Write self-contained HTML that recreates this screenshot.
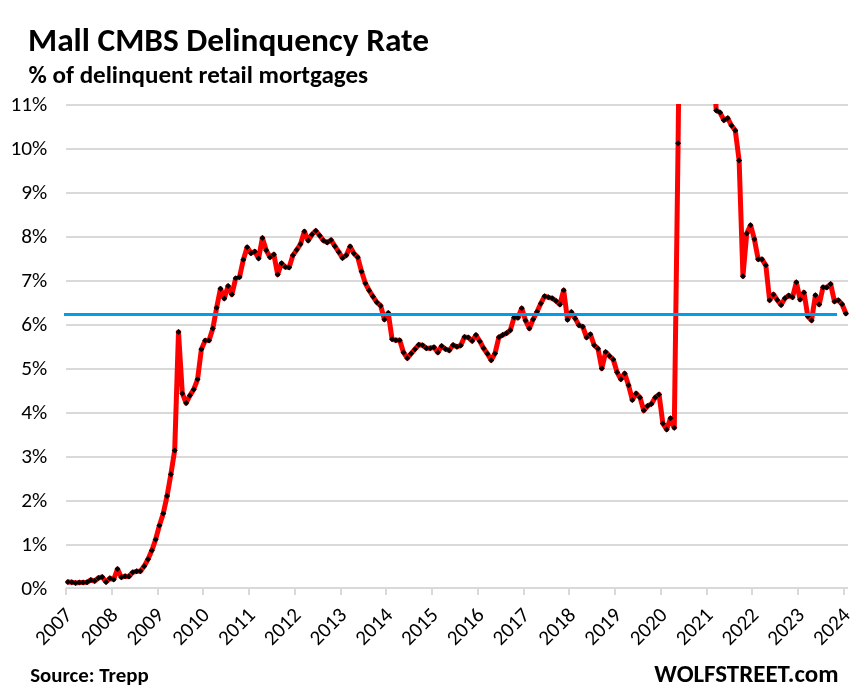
<!DOCTYPE html>
<html><head><meta charset="utf-8"><style>
html,body{margin:0;padding:0;background:#fff;}
svg{display:block;will-change:transform;}
text{font-family:Carlito,"Liberation Sans",sans-serif;fill:#000;}
.yl{font-size:21.3px;}
.xl{font-size:21px;}
.b{font-weight:bold;}
</style></head><body>
<svg width="857" height="694" viewBox="0 0 857 694">

<defs><clipPath id="pa"><rect x="0" y="104" width="857" height="590"/></clipPath></defs>
<text x="28" y="51.3" class="b" style="font-size:33px" textLength="401" lengthAdjust="spacingAndGlyphs">Mall CMBS Delinquency Rate</text>
<text x="28.6" y="83.0" class="b" style="font-size:24.4px" textLength="339.5" lengthAdjust="spacingAndGlyphs">% of delinquent retail mortgages</text>
<g shape-rendering="crispEdges"><rect x="66" y="544" width="782" height="2" fill="#d9d9d9"/><rect x="66" y="500" width="782" height="2" fill="#d9d9d9"/><rect x="66" y="456" width="782" height="2" fill="#d9d9d9"/><rect x="66" y="412" width="782" height="2" fill="#d9d9d9"/><rect x="66" y="368" width="782" height="2" fill="#d9d9d9"/><rect x="66" y="324" width="782" height="2" fill="#d9d9d9"/><rect x="66" y="280" width="782" height="2" fill="#d9d9d9"/><rect x="66" y="236" width="782" height="2" fill="#d9d9d9"/><rect x="66" y="192" width="782" height="2" fill="#d9d9d9"/><rect x="66" y="148" width="782" height="2" fill="#d9d9d9"/><rect x="66" y="104" width="782" height="2" fill="#d9d9d9"/><rect x="66" y="587" width="782" height="2" fill="#d9d9d9"/><rect x="65" y="588" width="2" height="7" fill="#d9d9d9"/><rect x="111" y="588" width="2" height="7" fill="#d9d9d9"/><rect x="157" y="588" width="2" height="7" fill="#d9d9d9"/><rect x="202" y="588" width="2" height="7" fill="#d9d9d9"/><rect x="248" y="588" width="2" height="7" fill="#d9d9d9"/><rect x="294" y="588" width="2" height="7" fill="#d9d9d9"/><rect x="340" y="588" width="2" height="7" fill="#d9d9d9"/><rect x="385" y="588" width="2" height="7" fill="#d9d9d9"/><rect x="431" y="588" width="2" height="7" fill="#d9d9d9"/><rect x="477" y="588" width="2" height="7" fill="#d9d9d9"/><rect x="523" y="588" width="2" height="7" fill="#d9d9d9"/><rect x="568" y="588" width="2" height="7" fill="#d9d9d9"/><rect x="614" y="588" width="2" height="7" fill="#d9d9d9"/><rect x="660" y="588" width="2" height="7" fill="#d9d9d9"/><rect x="706" y="588" width="2" height="7" fill="#d9d9d9"/><rect x="751" y="588" width="2" height="7" fill="#d9d9d9"/><rect x="797" y="588" width="2" height="7" fill="#d9d9d9"/><rect x="843" y="588" width="2" height="7" fill="#d9d9d9"/></g>
<text x="47.2" y="594.9" text-anchor="end" class="yl" textLength="26.03" lengthAdjust="spacingAndGlyphs">0%</text><text x="47.2" y="551.4" text-anchor="end" class="yl" textLength="26.03" lengthAdjust="spacingAndGlyphs">1%</text><text x="47.2" y="507.4" text-anchor="end" class="yl" textLength="26.03" lengthAdjust="spacingAndGlyphs">2%</text><text x="47.2" y="463.4" text-anchor="end" class="yl" textLength="26.03" lengthAdjust="spacingAndGlyphs">3%</text><text x="47.2" y="419.4" text-anchor="end" class="yl" textLength="26.03" lengthAdjust="spacingAndGlyphs">4%</text><text x="47.2" y="375.4" text-anchor="end" class="yl" textLength="26.03" lengthAdjust="spacingAndGlyphs">5%</text><text x="47.2" y="331.4" text-anchor="end" class="yl" textLength="26.03" lengthAdjust="spacingAndGlyphs">6%</text><text x="47.2" y="287.4" text-anchor="end" class="yl" textLength="26.03" lengthAdjust="spacingAndGlyphs">7%</text><text x="47.2" y="243.4" text-anchor="end" class="yl" textLength="26.03" lengthAdjust="spacingAndGlyphs">8%</text><text x="47.2" y="199.4" text-anchor="end" class="yl" textLength="26.03" lengthAdjust="spacingAndGlyphs">9%</text><text x="47.2" y="155.4" text-anchor="end" class="yl" textLength="36.81" lengthAdjust="spacingAndGlyphs">10%</text><text x="47.2" y="111.4" text-anchor="end" class="yl" textLength="36.81" lengthAdjust="spacingAndGlyphs">11%</text>
<text transform="translate(73.3,616.1) rotate(-45)" text-anchor="end" class="xl" textLength="42.58" lengthAdjust="spacingAndGlyphs">2007</text><text transform="translate(119.1,616.1) rotate(-45)" text-anchor="end" class="xl" textLength="42.58" lengthAdjust="spacingAndGlyphs">2008</text><text transform="translate(164.8,616.1) rotate(-45)" text-anchor="end" class="xl" textLength="42.58" lengthAdjust="spacingAndGlyphs">2009</text><text transform="translate(210.6,616.1) rotate(-45)" text-anchor="end" class="xl" textLength="42.58" lengthAdjust="spacingAndGlyphs">2010</text><text transform="translate(256.4,616.1) rotate(-45)" text-anchor="end" class="xl" textLength="42.58" lengthAdjust="spacingAndGlyphs">2011</text><text transform="translate(302.1,616.1) rotate(-45)" text-anchor="end" class="xl" textLength="42.58" lengthAdjust="spacingAndGlyphs">2012</text><text transform="translate(347.9,616.1) rotate(-45)" text-anchor="end" class="xl" textLength="42.58" lengthAdjust="spacingAndGlyphs">2013</text><text transform="translate(393.7,616.1) rotate(-45)" text-anchor="end" class="xl" textLength="42.58" lengthAdjust="spacingAndGlyphs">2014</text><text transform="translate(439.4,616.1) rotate(-45)" text-anchor="end" class="xl" textLength="42.58" lengthAdjust="spacingAndGlyphs">2015</text><text transform="translate(485.2,616.1) rotate(-45)" text-anchor="end" class="xl" textLength="42.58" lengthAdjust="spacingAndGlyphs">2016</text><text transform="translate(530.9,616.1) rotate(-45)" text-anchor="end" class="xl" textLength="42.58" lengthAdjust="spacingAndGlyphs">2017</text><text transform="translate(576.7,616.1) rotate(-45)" text-anchor="end" class="xl" textLength="42.58" lengthAdjust="spacingAndGlyphs">2018</text><text transform="translate(622.5,616.1) rotate(-45)" text-anchor="end" class="xl" textLength="42.58" lengthAdjust="spacingAndGlyphs">2019</text><text transform="translate(668.2,616.1) rotate(-45)" text-anchor="end" class="xl" textLength="42.58" lengthAdjust="spacingAndGlyphs">2020</text><text transform="translate(714.0,616.1) rotate(-45)" text-anchor="end" class="xl" textLength="42.58" lengthAdjust="spacingAndGlyphs">2021</text><text transform="translate(759.8,616.1) rotate(-45)" text-anchor="end" class="xl" textLength="42.58" lengthAdjust="spacingAndGlyphs">2022</text><text transform="translate(805.5,616.1) rotate(-45)" text-anchor="end" class="xl" textLength="42.58" lengthAdjust="spacingAndGlyphs">2023</text><text transform="translate(851.3,616.1) rotate(-45)" text-anchor="end" class="xl" textLength="42.58" lengthAdjust="spacingAndGlyphs">2024</text>
<g clip-path="url(#pa)">
<polyline points="67.91,582.00 71.72,582.30 75.53,582.90 79.35,582.50 83.16,582.50 86.98,582.30 90.79,580.00 94.60,581.00 98.42,578.00 102.23,577.00 106.04,582.10 109.86,578.20 113.67,579.50 117.49,569.10 121.30,577.30 125.11,576.20 128.93,576.50 132.74,572.30 136.55,571.30 140.37,571.30 144.18,566.20 148.00,559.30 151.81,550.60 155.62,539.50 159.44,525.40 163.25,513.40 167.06,496.10 170.88,474.30 174.69,450.40 178.50,332.10 182.32,393.40 186.13,403.10 189.95,395.40 193.76,389.40 197.57,379.30 201.39,349.20 205.20,340.60 209.01,340.60 212.83,328.50 216.64,307.70 220.46,288.70 224.27,298.50 228.08,286.10 231.90,294.40 235.71,278.30 239.52,277.10 243.34,259.80 247.15,247.20 250.97,253.20 254.78,251.50 258.59,258.40 262.41,238.00 266.22,250.30 270.03,257.20 273.85,254.40 277.66,274.60 281.48,263.20 285.29,267.10 289.10,267.40 292.92,255.30 296.73,249.80 300.54,244.10 304.36,231.50 308.17,240.60 311.99,234.60 315.80,230.80 319.61,235.50 323.43,240.60 327.24,242.40 331.05,240.10 334.87,246.20 338.68,251.90 342.50,257.90 346.31,255.30 350.12,246.40 353.94,253.40 357.75,257.30 361.56,271.50 365.38,283.30 369.19,290.50 373.00,296.60 376.82,302.30 380.63,305.70 384.45,319.50 388.26,313.00 392.07,339.20 395.89,340.30 399.70,340.30 403.51,352.40 407.33,358.20 411.14,353.60 414.96,349.20 418.77,344.80 422.58,345.20 426.40,348.20 430.21,348.20 434.02,347.30 437.84,352.40 441.65,346.10 445.47,349.10 449.28,350.40 453.09,345.10 456.91,346.80 460.72,345.40 464.53,337.00 468.35,337.50 472.16,341.00 475.98,335.10 479.79,341.20 483.60,348.20 487.42,353.70 491.23,360.20 495.04,353.40 498.86,337.20 502.67,335.10 506.49,333.30 510.30,330.30 514.11,317.40 517.93,317.70 521.74,308.30 525.55,320.60 529.37,328.40 533.18,319.30 537.00,311.80 540.81,303.50 544.62,296.20 548.44,297.30 552.25,298.30 556.06,301.00 559.88,304.50 563.69,290.20 567.50,319.80 571.32,312.00 575.13,318.40 578.95,325.30 582.76,326.70 586.57,337.40 590.39,334.30 594.20,345.20 598.01,348.70 601.83,368.50 605.64,352.10 609.46,356.10 613.27,359.50 617.08,372.30 620.90,379.20 624.71,373.50 628.52,385.20 632.34,399.90 636.15,393.40 639.97,397.40 643.78,410.60 647.59,405.90 651.41,403.90 655.22,397.40 659.03,394.40 662.85,423.40 666.66,429.40 670.48,418.30 674.29,427.70 678.10,143.20 681.92,-205.44 685.73,-78.98 689.54,-65.37 693.36,-67.12 697.17,-30.68 700.99,-10.04 704.80,8.84 708.61,25.96 712.43,47.92 716.24,110.40 720.05,112.60 723.87,120.20 727.68,118.20 731.50,125.60 735.31,130.60 739.12,160.50 742.94,276.20 746.75,233.40 750.56,225.20 754.38,239.20 758.19,259.30 762.00,259.30 765.82,265.30 769.63,300.20 773.45,294.40 777.26,299.90 781.07,305.10 784.89,298.20 788.70,295.60 792.51,297.30 796.33,282.30 800.14,299.60 803.96,292.40 807.77,316.20 811.58,320.40 815.40,295.30 819.21,304.50 823.02,287.30 826.84,287.50 830.65,284.10 834.47,301.40 838.28,300.20 842.09,304.30 845.91,313.50" fill="none" stroke="#ff0000" stroke-width="5" stroke-linejoin="round" stroke-linecap="round"/>
<path d="M67.91 579.00l3.0 3.0l-3.0 3.0l-3.0 -3.0zM71.72 579.30l3.0 3.0l-3.0 3.0l-3.0 -3.0zM75.53 579.90l3.0 3.0l-3.0 3.0l-3.0 -3.0zM79.35 579.50l3.0 3.0l-3.0 3.0l-3.0 -3.0zM83.16 579.50l3.0 3.0l-3.0 3.0l-3.0 -3.0zM86.98 579.30l3.0 3.0l-3.0 3.0l-3.0 -3.0zM90.79 577.00l3.0 3.0l-3.0 3.0l-3.0 -3.0zM94.60 578.00l3.0 3.0l-3.0 3.0l-3.0 -3.0zM98.42 575.00l3.0 3.0l-3.0 3.0l-3.0 -3.0zM102.23 574.00l3.0 3.0l-3.0 3.0l-3.0 -3.0zM106.04 579.10l3.0 3.0l-3.0 3.0l-3.0 -3.0zM109.86 575.20l3.0 3.0l-3.0 3.0l-3.0 -3.0zM113.67 576.50l3.0 3.0l-3.0 3.0l-3.0 -3.0zM117.49 566.10l3.0 3.0l-3.0 3.0l-3.0 -3.0zM121.30 574.30l3.0 3.0l-3.0 3.0l-3.0 -3.0zM125.11 573.20l3.0 3.0l-3.0 3.0l-3.0 -3.0zM128.93 573.50l3.0 3.0l-3.0 3.0l-3.0 -3.0zM132.74 569.30l3.0 3.0l-3.0 3.0l-3.0 -3.0zM136.55 568.30l3.0 3.0l-3.0 3.0l-3.0 -3.0zM140.37 568.30l3.0 3.0l-3.0 3.0l-3.0 -3.0zM144.18 563.20l3.0 3.0l-3.0 3.0l-3.0 -3.0zM148.00 556.30l3.0 3.0l-3.0 3.0l-3.0 -3.0zM151.81 547.60l3.0 3.0l-3.0 3.0l-3.0 -3.0zM155.62 536.50l3.0 3.0l-3.0 3.0l-3.0 -3.0zM159.44 522.40l3.0 3.0l-3.0 3.0l-3.0 -3.0zM163.25 510.40l3.0 3.0l-3.0 3.0l-3.0 -3.0zM167.06 493.10l3.0 3.0l-3.0 3.0l-3.0 -3.0zM170.88 471.30l3.0 3.0l-3.0 3.0l-3.0 -3.0zM174.69 447.40l3.0 3.0l-3.0 3.0l-3.0 -3.0zM178.50 329.10l3.0 3.0l-3.0 3.0l-3.0 -3.0zM182.32 390.40l3.0 3.0l-3.0 3.0l-3.0 -3.0zM186.13 400.10l3.0 3.0l-3.0 3.0l-3.0 -3.0zM189.95 392.40l3.0 3.0l-3.0 3.0l-3.0 -3.0zM193.76 386.40l3.0 3.0l-3.0 3.0l-3.0 -3.0zM197.57 376.30l3.0 3.0l-3.0 3.0l-3.0 -3.0zM201.39 346.20l3.0 3.0l-3.0 3.0l-3.0 -3.0zM205.20 337.60l3.0 3.0l-3.0 3.0l-3.0 -3.0zM209.01 337.60l3.0 3.0l-3.0 3.0l-3.0 -3.0zM212.83 325.50l3.0 3.0l-3.0 3.0l-3.0 -3.0zM216.64 304.70l3.0 3.0l-3.0 3.0l-3.0 -3.0zM220.46 285.70l3.0 3.0l-3.0 3.0l-3.0 -3.0zM224.27 295.50l3.0 3.0l-3.0 3.0l-3.0 -3.0zM228.08 283.10l3.0 3.0l-3.0 3.0l-3.0 -3.0zM231.90 291.40l3.0 3.0l-3.0 3.0l-3.0 -3.0zM235.71 275.30l3.0 3.0l-3.0 3.0l-3.0 -3.0zM239.52 274.10l3.0 3.0l-3.0 3.0l-3.0 -3.0zM243.34 256.80l3.0 3.0l-3.0 3.0l-3.0 -3.0zM247.15 244.20l3.0 3.0l-3.0 3.0l-3.0 -3.0zM250.97 250.20l3.0 3.0l-3.0 3.0l-3.0 -3.0zM254.78 248.50l3.0 3.0l-3.0 3.0l-3.0 -3.0zM258.59 255.40l3.0 3.0l-3.0 3.0l-3.0 -3.0zM262.41 235.00l3.0 3.0l-3.0 3.0l-3.0 -3.0zM266.22 247.30l3.0 3.0l-3.0 3.0l-3.0 -3.0zM270.03 254.20l3.0 3.0l-3.0 3.0l-3.0 -3.0zM273.85 251.40l3.0 3.0l-3.0 3.0l-3.0 -3.0zM277.66 271.60l3.0 3.0l-3.0 3.0l-3.0 -3.0zM281.48 260.20l3.0 3.0l-3.0 3.0l-3.0 -3.0zM285.29 264.10l3.0 3.0l-3.0 3.0l-3.0 -3.0zM289.10 264.40l3.0 3.0l-3.0 3.0l-3.0 -3.0zM292.92 252.30l3.0 3.0l-3.0 3.0l-3.0 -3.0zM296.73 246.80l3.0 3.0l-3.0 3.0l-3.0 -3.0zM300.54 241.10l3.0 3.0l-3.0 3.0l-3.0 -3.0zM304.36 228.50l3.0 3.0l-3.0 3.0l-3.0 -3.0zM308.17 237.60l3.0 3.0l-3.0 3.0l-3.0 -3.0zM311.99 231.60l3.0 3.0l-3.0 3.0l-3.0 -3.0zM315.80 227.80l3.0 3.0l-3.0 3.0l-3.0 -3.0zM319.61 232.50l3.0 3.0l-3.0 3.0l-3.0 -3.0zM323.43 237.60l3.0 3.0l-3.0 3.0l-3.0 -3.0zM327.24 239.40l3.0 3.0l-3.0 3.0l-3.0 -3.0zM331.05 237.10l3.0 3.0l-3.0 3.0l-3.0 -3.0zM334.87 243.20l3.0 3.0l-3.0 3.0l-3.0 -3.0zM338.68 248.90l3.0 3.0l-3.0 3.0l-3.0 -3.0zM342.50 254.90l3.0 3.0l-3.0 3.0l-3.0 -3.0zM346.31 252.30l3.0 3.0l-3.0 3.0l-3.0 -3.0zM350.12 243.40l3.0 3.0l-3.0 3.0l-3.0 -3.0zM353.94 250.40l3.0 3.0l-3.0 3.0l-3.0 -3.0zM357.75 254.30l3.0 3.0l-3.0 3.0l-3.0 -3.0zM361.56 268.50l3.0 3.0l-3.0 3.0l-3.0 -3.0zM365.38 280.30l3.0 3.0l-3.0 3.0l-3.0 -3.0zM369.19 287.50l3.0 3.0l-3.0 3.0l-3.0 -3.0zM373.00 293.60l3.0 3.0l-3.0 3.0l-3.0 -3.0zM376.82 299.30l3.0 3.0l-3.0 3.0l-3.0 -3.0zM380.63 302.70l3.0 3.0l-3.0 3.0l-3.0 -3.0zM384.45 316.50l3.0 3.0l-3.0 3.0l-3.0 -3.0zM388.26 310.00l3.0 3.0l-3.0 3.0l-3.0 -3.0zM392.07 336.20l3.0 3.0l-3.0 3.0l-3.0 -3.0zM395.89 337.30l3.0 3.0l-3.0 3.0l-3.0 -3.0zM399.70 337.30l3.0 3.0l-3.0 3.0l-3.0 -3.0zM403.51 349.40l3.0 3.0l-3.0 3.0l-3.0 -3.0zM407.33 355.20l3.0 3.0l-3.0 3.0l-3.0 -3.0zM411.14 350.60l3.0 3.0l-3.0 3.0l-3.0 -3.0zM414.96 346.20l3.0 3.0l-3.0 3.0l-3.0 -3.0zM418.77 341.80l3.0 3.0l-3.0 3.0l-3.0 -3.0zM422.58 342.20l3.0 3.0l-3.0 3.0l-3.0 -3.0zM426.40 345.20l3.0 3.0l-3.0 3.0l-3.0 -3.0zM430.21 345.20l3.0 3.0l-3.0 3.0l-3.0 -3.0zM434.02 344.30l3.0 3.0l-3.0 3.0l-3.0 -3.0zM437.84 349.40l3.0 3.0l-3.0 3.0l-3.0 -3.0zM441.65 343.10l3.0 3.0l-3.0 3.0l-3.0 -3.0zM445.47 346.10l3.0 3.0l-3.0 3.0l-3.0 -3.0zM449.28 347.40l3.0 3.0l-3.0 3.0l-3.0 -3.0zM453.09 342.10l3.0 3.0l-3.0 3.0l-3.0 -3.0zM456.91 343.80l3.0 3.0l-3.0 3.0l-3.0 -3.0zM460.72 342.40l3.0 3.0l-3.0 3.0l-3.0 -3.0zM464.53 334.00l3.0 3.0l-3.0 3.0l-3.0 -3.0zM468.35 334.50l3.0 3.0l-3.0 3.0l-3.0 -3.0zM472.16 338.00l3.0 3.0l-3.0 3.0l-3.0 -3.0zM475.98 332.10l3.0 3.0l-3.0 3.0l-3.0 -3.0zM479.79 338.20l3.0 3.0l-3.0 3.0l-3.0 -3.0zM483.60 345.20l3.0 3.0l-3.0 3.0l-3.0 -3.0zM487.42 350.70l3.0 3.0l-3.0 3.0l-3.0 -3.0zM491.23 357.20l3.0 3.0l-3.0 3.0l-3.0 -3.0zM495.04 350.40l3.0 3.0l-3.0 3.0l-3.0 -3.0zM498.86 334.20l3.0 3.0l-3.0 3.0l-3.0 -3.0zM502.67 332.10l3.0 3.0l-3.0 3.0l-3.0 -3.0zM506.49 330.30l3.0 3.0l-3.0 3.0l-3.0 -3.0zM510.30 327.30l3.0 3.0l-3.0 3.0l-3.0 -3.0zM514.11 314.40l3.0 3.0l-3.0 3.0l-3.0 -3.0zM517.93 314.70l3.0 3.0l-3.0 3.0l-3.0 -3.0zM521.74 305.30l3.0 3.0l-3.0 3.0l-3.0 -3.0zM525.55 317.60l3.0 3.0l-3.0 3.0l-3.0 -3.0zM529.37 325.40l3.0 3.0l-3.0 3.0l-3.0 -3.0zM533.18 316.30l3.0 3.0l-3.0 3.0l-3.0 -3.0zM537.00 308.80l3.0 3.0l-3.0 3.0l-3.0 -3.0zM540.81 300.50l3.0 3.0l-3.0 3.0l-3.0 -3.0zM544.62 293.20l3.0 3.0l-3.0 3.0l-3.0 -3.0zM548.44 294.30l3.0 3.0l-3.0 3.0l-3.0 -3.0zM552.25 295.30l3.0 3.0l-3.0 3.0l-3.0 -3.0zM556.06 298.00l3.0 3.0l-3.0 3.0l-3.0 -3.0zM559.88 301.50l3.0 3.0l-3.0 3.0l-3.0 -3.0zM563.69 287.20l3.0 3.0l-3.0 3.0l-3.0 -3.0zM567.50 316.80l3.0 3.0l-3.0 3.0l-3.0 -3.0zM571.32 309.00l3.0 3.0l-3.0 3.0l-3.0 -3.0zM575.13 315.40l3.0 3.0l-3.0 3.0l-3.0 -3.0zM578.95 322.30l3.0 3.0l-3.0 3.0l-3.0 -3.0zM582.76 323.70l3.0 3.0l-3.0 3.0l-3.0 -3.0zM586.57 334.40l3.0 3.0l-3.0 3.0l-3.0 -3.0zM590.39 331.30l3.0 3.0l-3.0 3.0l-3.0 -3.0zM594.20 342.20l3.0 3.0l-3.0 3.0l-3.0 -3.0zM598.01 345.70l3.0 3.0l-3.0 3.0l-3.0 -3.0zM601.83 365.50l3.0 3.0l-3.0 3.0l-3.0 -3.0zM605.64 349.10l3.0 3.0l-3.0 3.0l-3.0 -3.0zM609.46 353.10l3.0 3.0l-3.0 3.0l-3.0 -3.0zM613.27 356.50l3.0 3.0l-3.0 3.0l-3.0 -3.0zM617.08 369.30l3.0 3.0l-3.0 3.0l-3.0 -3.0zM620.90 376.20l3.0 3.0l-3.0 3.0l-3.0 -3.0zM624.71 370.50l3.0 3.0l-3.0 3.0l-3.0 -3.0zM628.52 382.20l3.0 3.0l-3.0 3.0l-3.0 -3.0zM632.34 396.90l3.0 3.0l-3.0 3.0l-3.0 -3.0zM636.15 390.40l3.0 3.0l-3.0 3.0l-3.0 -3.0zM639.97 394.40l3.0 3.0l-3.0 3.0l-3.0 -3.0zM643.78 407.60l3.0 3.0l-3.0 3.0l-3.0 -3.0zM647.59 402.90l3.0 3.0l-3.0 3.0l-3.0 -3.0zM651.41 400.90l3.0 3.0l-3.0 3.0l-3.0 -3.0zM655.22 394.40l3.0 3.0l-3.0 3.0l-3.0 -3.0zM659.03 391.40l3.0 3.0l-3.0 3.0l-3.0 -3.0zM662.85 420.40l3.0 3.0l-3.0 3.0l-3.0 -3.0zM666.66 426.40l3.0 3.0l-3.0 3.0l-3.0 -3.0zM670.48 415.30l3.0 3.0l-3.0 3.0l-3.0 -3.0zM674.29 424.70l3.0 3.0l-3.0 3.0l-3.0 -3.0zM678.10 140.20l3.0 3.0l-3.0 3.0l-3.0 -3.0zM716.24 107.40l3.0 3.0l-3.0 3.0l-3.0 -3.0zM720.05 109.60l3.0 3.0l-3.0 3.0l-3.0 -3.0zM723.87 117.20l3.0 3.0l-3.0 3.0l-3.0 -3.0zM727.68 115.20l3.0 3.0l-3.0 3.0l-3.0 -3.0zM731.50 122.60l3.0 3.0l-3.0 3.0l-3.0 -3.0zM735.31 127.60l3.0 3.0l-3.0 3.0l-3.0 -3.0zM739.12 157.50l3.0 3.0l-3.0 3.0l-3.0 -3.0zM742.94 273.20l3.0 3.0l-3.0 3.0l-3.0 -3.0zM746.75 230.40l3.0 3.0l-3.0 3.0l-3.0 -3.0zM750.56 222.20l3.0 3.0l-3.0 3.0l-3.0 -3.0zM754.38 236.20l3.0 3.0l-3.0 3.0l-3.0 -3.0zM758.19 256.30l3.0 3.0l-3.0 3.0l-3.0 -3.0zM762.00 256.30l3.0 3.0l-3.0 3.0l-3.0 -3.0zM765.82 262.30l3.0 3.0l-3.0 3.0l-3.0 -3.0zM769.63 297.20l3.0 3.0l-3.0 3.0l-3.0 -3.0zM773.45 291.40l3.0 3.0l-3.0 3.0l-3.0 -3.0zM777.26 296.90l3.0 3.0l-3.0 3.0l-3.0 -3.0zM781.07 302.10l3.0 3.0l-3.0 3.0l-3.0 -3.0zM784.89 295.20l3.0 3.0l-3.0 3.0l-3.0 -3.0zM788.70 292.60l3.0 3.0l-3.0 3.0l-3.0 -3.0zM792.51 294.30l3.0 3.0l-3.0 3.0l-3.0 -3.0zM796.33 279.30l3.0 3.0l-3.0 3.0l-3.0 -3.0zM800.14 296.60l3.0 3.0l-3.0 3.0l-3.0 -3.0zM803.96 289.40l3.0 3.0l-3.0 3.0l-3.0 -3.0zM807.77 313.20l3.0 3.0l-3.0 3.0l-3.0 -3.0zM811.58 317.40l3.0 3.0l-3.0 3.0l-3.0 -3.0zM815.40 292.30l3.0 3.0l-3.0 3.0l-3.0 -3.0zM819.21 301.50l3.0 3.0l-3.0 3.0l-3.0 -3.0zM823.02 284.30l3.0 3.0l-3.0 3.0l-3.0 -3.0zM826.84 284.50l3.0 3.0l-3.0 3.0l-3.0 -3.0zM830.65 281.10l3.0 3.0l-3.0 3.0l-3.0 -3.0zM834.47 298.40l3.0 3.0l-3.0 3.0l-3.0 -3.0zM838.28 297.20l3.0 3.0l-3.0 3.0l-3.0 -3.0zM842.09 301.30l3.0 3.0l-3.0 3.0l-3.0 -3.0zM845.91 310.50l3.0 3.0l-3.0 3.0l-3.0 -3.0z" fill="#000"/>
</g>
<rect x="64" y="313" width="773" height="3" fill="#009ee6" shape-rendering="crispEdges"/>
<text x="30.2" y="681.9" class="b" style="font-size:20px" textLength="118.5" lengthAdjust="spacingAndGlyphs">Source: Trepp</text>
<text x="654.3" y="681.8" class="b" style="font-size:24.6px" textLength="184.3" lengthAdjust="spacingAndGlyphs">WOLFSTREET.com</text>
</svg>
</body></html>
